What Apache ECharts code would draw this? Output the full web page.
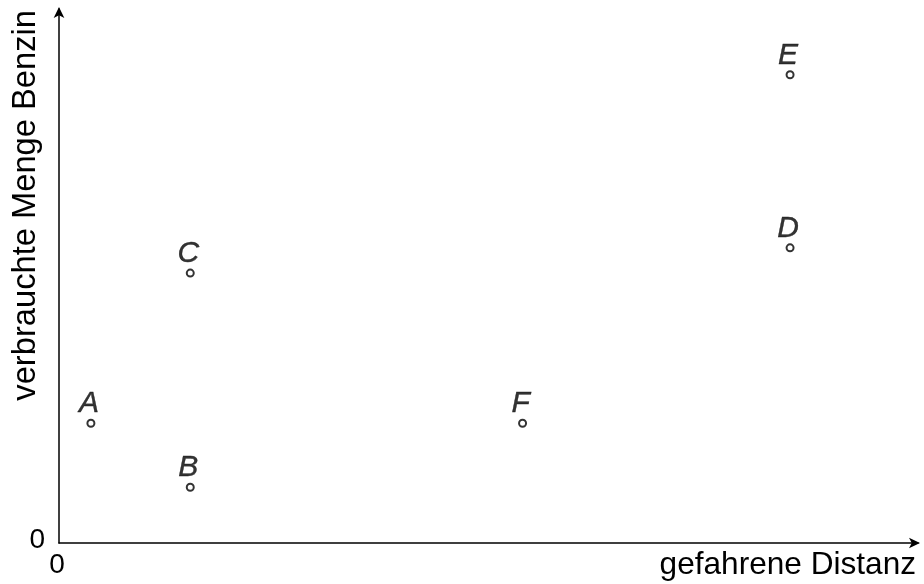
<!DOCTYPE html>
<html>
<head>
<meta charset="utf-8">
<script src="https://cdn.jsdelivr.net/npm/echarts@6/dist/echarts.min.js"></script>
<style>
  html, body { margin: 0; padding: 0; background: #ffffff; }
  #chart { width: 924px; height: 584px; }
</style>
</head>
<body>
<div id="chart"></div>
<script>
// points (distance, fuel)
const pointNames = ["A", "B", "C", "D", "E", "F"];
const distance = [0.96, 3.95, 3.95, 22.0, 22.0, 13.95];
const fuel = [2.04, 0.95, 4.6, 5.03, 7.98, 2.04];
const xTicks = [0];
const yTicks = [0];

const FONT = "Liberation Sans, Arial, Helvetica, sans-serif";

const chart = echarts.init(document.getElementById("chart"), null, { renderer: "canvas" });

const points = pointNames.map(function (n, i) {
  return { name: n, value: [distance[i], fuel[i]] };
});

const axisLineStyle = {
  show: true,
  symbol: ["none", "arrow"],
  symbolSize: [8, 11],
  symbolOffset: [0, 2],
  lineStyle: { color: "#000", width: 1.5 }
};

chart.setOption({
  animation: false,
  backgroundColor: "#ffffff",
  grid: { left: 59, right: 6, top: 9, bottom: 41, containLabel: false },
  xAxis: {
    type: "value",
    min: 0,
    max: 25.85,
    splitLine: { show: false },
    axisTick: { show: false },
    axisLine: axisLineStyle,
    axisLabel: {
      customValues: xTicks,
      color: "#000",
      fontFamily: FONT,
      fontSize: 28,
      margin: 8,
      padding: [0, 4, 0, 0]
    }
  },
  yAxis: {
    type: "value",
    min: 0,
    max: 9.1,
    splitLine: { show: false },
    axisTick: { show: false },
    axisLine: axisLineStyle,
    axisLabel: {
      customValues: yTicks,
      color: "#000",
      fontFamily: FONT,
      fontSize: 28,
      margin: 14,
      verticalAlign: "bottom",
      padding: [0, 0, -11, 0]
    }
  },
  series: [
    {
      type: "scatter",
      data: points,
      symbol: "emptyCircle",
      symbolSize: 7,
      itemStyle: { color: "#000", borderColor: "#000", borderWidth: 1.3 },
      label: {
        show: true,
        position: "top",
        distance: 0,
        offset: [-2, 0],
        formatter: "{b}",
        color: "#000",
        fontFamily: FONT,
        fontStyle: "italic",
        fontSize: 30,
        textBorderColor: "#000",
        textBorderWidth: 0.4
      }
    }
  ],
  graphic: [
    {
      type: "text",
      right: 8,
      bottom: 3,
      style: {
        text: "gefahrene Distanz",
        fill: "#000",
        font: "31.6px " + FONT
      }
    },
    {
      type: "text",
      x: 26,
      y: 10,
      rotation: Math.PI / 2,
      style: {
        text: "verbrauchte Menge Benzin",
        fill: "#000",
        font: "32.7px " + FONT,
        align: "right",
        verticalAlign: "middle"
      }
    }
  ]
});
</script>
</body>
</html>
